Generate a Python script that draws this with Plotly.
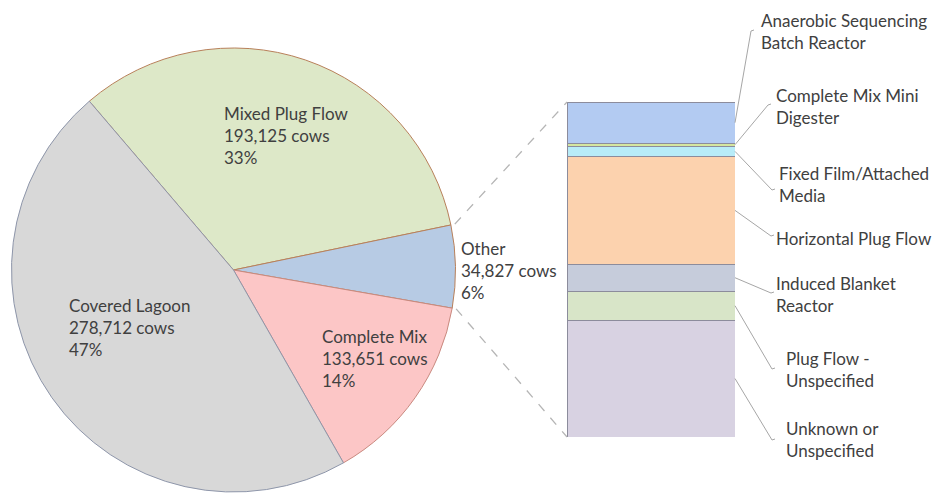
import math
import plotly.graph_objects as go

W, H = 933, 496

# ---- data ----
pie_labels = ["Mixed Plug Flow", "Other", "Complete Mix", "Covered Lagoon"]
pie_pct = [33, 6, 14, 47]
pie_cows = [193125, 34827, 133651, 278712]

bar_cats = ["Unknown or Unspecified", "Plug Flow - Unspecified", "Induced Blanket Reactor",
            "Horizontal Plug Flow", "Fixed Film/Attached Media", "Complete Mix Mini Digester",
            "Anaerobic Sequencing Batch Reactor"]
bar_vals = [12160, 2980, 2840, 11160, 1110, 280, 4300]
bar_text = ["Unknown or<br>Unspecified", "Plug Flow -<br>Unspecified", "Induced Blanket<br>Reactor",
            "Horizontal Plug Flow", "Fixed Film/Attached<br>Media", "Complete Mix Mini<br>Digester",
            "Anaerobic Sequencing<br>Batch Reactor"]

# ---- styles ----
pie_colors = ["#dde8c8", "#b7cbe4", "#fcc6c6", "#d8d8d8"]
pie_line = ["#b8805a", "#b8805a", "#c98a80", "#8e96aa"]
bar_colors = ["#d8d2e2", "#d8e5c8", "#c6ccdb", "#fcd2ae", "#b8ecf8", "#d5e6a0", "#b3cbf2"]
FONT = "Lato"
TXT = "#404040"
FS = 17

cx, cy, r = 233.5, 270, 222          # pie geometry in px
rotation = -40.5
bx0, bx1, by0, by1 = 567, 735, 102, 437  # bar box in px

def px(x):
    return x / W

def py(y):
    return 1 - y / H

fig = go.Figure()
fig.add_trace(go.Pie(
    values=pie_pct, labels=pie_labels, sort=False, direction="clockwise",
    rotation=rotation, textinfo="none", showlegend=False,
    marker=dict(colors=pie_colors, line=dict(color=pie_line, width=1)),
    domain=dict(x=[px(cx - r), px(cx + r)], y=[py(cy + r), py(cy - r)]),
))

total = sum(bar_vals)
for cat, v, c in zip(bar_cats, bar_vals, bar_colors):
    fig.add_trace(go.Bar(
        x=[0], y=[v], name=cat, width=1, showlegend=False,
        marker=dict(color=c, line=dict(color="#8c8c9c", width=1)),
        xaxis="x2", yaxis="y2",
    ))

y2dom = [py(by1), py(by0)]
x2dom = [px(bx0), px(bx1)]
fig.update_layout(
    width=W, height=H, margin=dict(l=0, r=0, t=0, b=0),
    paper_bgcolor="white", plot_bgcolor="rgba(0,0,0,0)",
    barmode="stack",
    xaxis2=dict(domain=x2dom, range=[-0.5, 0.5], visible=False, anchor="y2"),
    yaxis2=dict(domain=y2dom, range=[0, total], visible=False, anchor="x2"),
    font=dict(family=FONT, color=TXT, size=FS),
)

def y2paper(v):
    return y2dom[0] + v / total * (y2dom[1] - y2dom[0])

# ---- pie labels ----
pie_lab_pos = {"Mixed Plug Flow": (222, 135), "Other": (459, 270),
               "Complete Mix": (320, 358), "Covered Lagoon": (67, 327)}
anns = []
for lab, pct, cows in zip(pie_labels, pie_pct, pie_cows):
    x, y = pie_lab_pos[lab]
    anns.append(dict(x=px(x), y=py(y), xref="paper", yref="paper", xanchor="left",
                     yanchor="middle", align="left", showarrow=False,
                     text=f"{lab}<br>{cows:,} cows<br>{pct}%"))

# ---- connector dashed lines from "Other" slice to bar ----
tot_p = sum(pie_pct)
start = sum(pie_pct[:1]) / tot_p
end = sum(pie_pct[:2]) / tot_p
shapes = []
for frac, yv in ((start, total), (end, 0)):
    a = math.radians(rotation + 360 * frac)
    rr = r + 4
    x0 = cx + rr * math.sin(a)
    y0 = cy - rr * math.cos(a)
    shapes.append(dict(type="line", xref="paper", yref="paper",
                       x0=px(x0), y0=py(y0), x1=x2dom[0], y1=y2paper(yv),
                       line=dict(color="#b5b5b5", width=1.3, dash="dash")))

# ---- bar labels with leader lines ----
lab_pos = {  # label left x, center y, elbow x, elbow y (px)
    "Anaerobic Sequencing Batch Reactor": (759, 32, 751, 31),
    "Complete Mix Mini Digester": (774, 107, 768, 105),
    "Fixed Film/Attached Media": (777, 184, 772, 190),
    "Horizontal Plug Flow": (774, 238, 771, 236),
    "Induced Blanket Reactor": (774, 294, 771, 293),
    "Plug Flow - Unspecified": (784, 369, 772, 369),
    "Unknown or Unspecified": (784, 439, 772, 440),
}
cum = 0
for cat, v, t in zip(bar_cats, bar_vals, bar_text):
    mid = cum + v / 2
    cum += v
    lx, ly, ex, ey = lab_pos[cat]
    sx, sy = x2dom[1], y2paper(mid)
    path = f"M {sx},{sy} L {px(ex)},{py(ey)} L {px(ex + 3)},{py(ey - 1)}"
    shapes.append(dict(type="path", xref="paper", yref="paper", path=path,
                       line=dict(color="#a6a6a6", width=1)))
    anns.append(dict(x=px(lx), y=py(ly), xref="paper", yref="paper", xanchor="left",
                     yanchor="middle", align="left", showarrow=False, text=t))

fig.update_layout(annotations=anns, shapes=shapes)
fig.write_html("out.html")
